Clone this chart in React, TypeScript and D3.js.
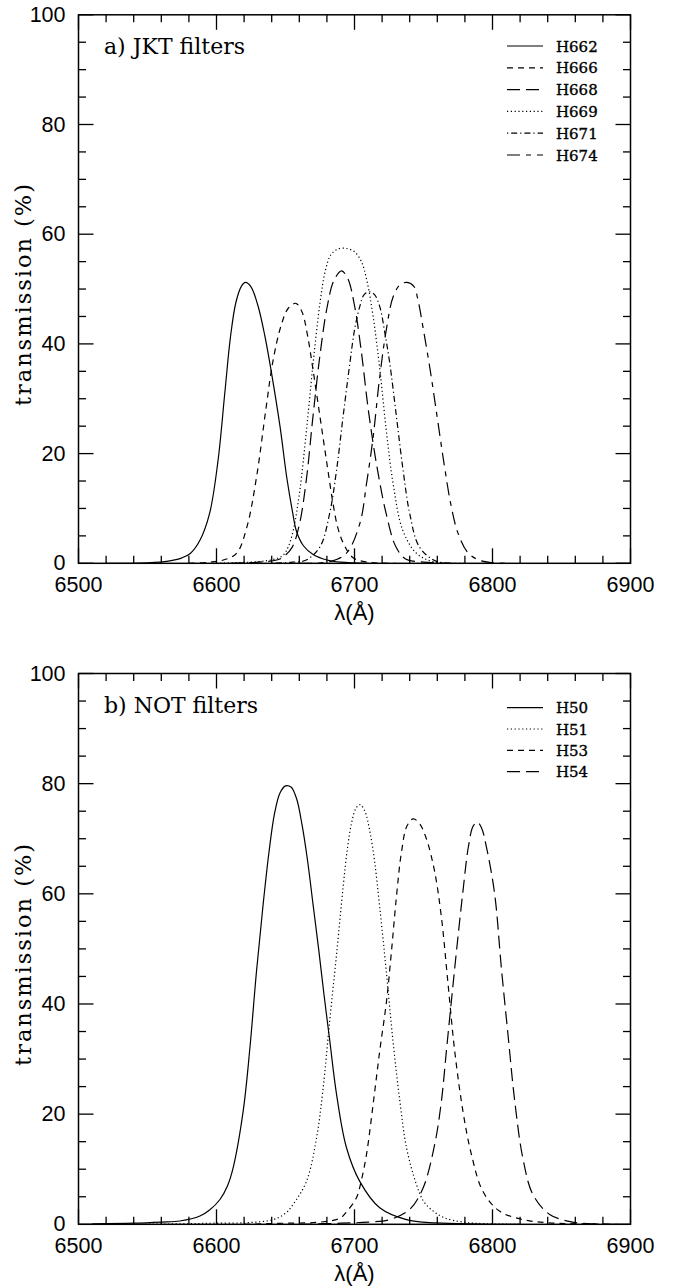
import React from 'react';
import * as d3 from 'd3';

// ---------- data ----------
const WAVE_DOMAIN = [6500, 6900];
const WAVE_TICKS = [6500, 6600, 6700, 6800, 6900];
const TRANS_TICKS = [0, 20, 40, 60, 80, 100];

// panel a) JKT filters  [wavelength Å, transmission %]
const H662 = [[6520,0],[6550,0.1],[6565,0.4],[6575,1],[6581,1.8],[6588,4.2],[6595,9.1],[6601,18.5],[6606,31],[6610,41],[6614,47.5],[6618,50.5],[6621,51.2],[6625,50.4],[6630,47],[6635,41.5],[6640,34.5],[6646,25],[6651,15.5],[6655,9.5],[6658,5.8],[6663,3.2],[6670,1.6],[6680,0.6],[6690,0.2],[6710,0]];
const H666 = [[6580,0],[6595,0.2],[6605,0.6],[6614.5,1.8],[6622,6.6],[6629,15.7],[6636,28.5],[6641,37],[6647,43.5],[6652,46.5],[6657.5,47.4],[6662,45.8],[6666,41.5],[6670,35.2],[6675,26.7],[6680,18.2],[6684.5,10.8],[6688,6.4],[6692,3.6],[6699,1],[6710,0.2],[6730,0]];
const H668 = [[6610,0],[6630,0.2],[6645,0.7],[6650,1.5],[6655,3],[6660,7],[6665,15],[6670,27],[6675,38],[6680,46.5],[6685,51.5],[6690.6,53.3],[6695,52],[6700,47],[6705,38.5],[6710,28],[6716,18],[6723,9],[6730,3],[6737,0.8],[6750,0.2],[6770,0]];
const H669 = [[6600,0],[6630,0.3],[6641,0.7],[6648,1.4],[6652,3],[6655.6,6],[6660.4,13.3],[6665.2,24.3],[6670,36.4],[6675,47.5],[6679,53.5],[6683,56.3],[6688,57.3],[6694,57.4],[6700,56.8],[6705,55],[6709,51.5],[6713.5,45],[6718.3,35.5],[6723,24.3],[6728,14.5],[6735,6],[6745,1.8],[6757,0.3],[6780,0]];
const H671 = [[6640,0],[6655,0.2],[6665,0.6],[6675,3],[6682,9.1],[6687,17],[6691.7,26.7],[6696.6,36.4],[6700,42.5],[6703.8,46.8],[6707,49],[6711,49.5],[6714.5,49],[6718.3,46.8],[6722,42],[6725.6,36.4],[6730.4,26.7],[6735.2,17],[6740,9.1],[6747,3],[6759,0.4],[6775,0]];
const H674 = [[6660,0],[6682,0.3],[6694,1.8],[6703.8,7.2],[6708.7,14.5],[6713.5,23],[6718,33.4],[6723,42.5],[6728,48.6],[6733,50.8],[6738,51.2],[6743,50.5],[6746,48],[6750,42.5],[6755,35],[6760,26.5],[6765,18],[6770,10.5],[6775,5.5],[6782,2],[6790,0.6],[6800,0.1],[6810,0]];

// panel b) NOT filters
const H50 = [[6510,0.1],[6540,0.2],[6560,0.4],[6573.5,0.6],[6588,1.5],[6595,2.6],[6602.5,4.5],[6608,7],[6612,10.2],[6619.3,20.5],[6624.2,32],[6629,46],[6633.8,58.1],[6638,67.5],[6642,74.5],[6646,78.3],[6650,79.6],[6654,79.4],[6658,77.3],[6662,72.5],[6666,66],[6670,58],[6674,50],[6678,41.5],[6682,33.5],[6687,23.6],[6694.2,13.9],[6703.8,7.8],[6718.3,3],[6737.6,0.85],[6759,0.25],[6790,0.05],[6820,0]];
const H51 = [[6540,0],[6580,0.1],[6598,0.2],[6622,0.3],[6641,0.85],[6650,2],[6655.5,3.6],[6665.2,7.8],[6672.5,15.7],[6677.3,24.8],[6682,36.9],[6687,49],[6691.7,61.1],[6695,68.5],[6698,73],[6701,75.5],[6704,76.2],[6707.5,75],[6711,71.5],[6714.5,66],[6718.3,57.5],[6723,46],[6728,33],[6732.8,22.5],[6737.6,14],[6744.9,7.2],[6750,4.2],[6757,2.4],[6765,1.2],[6778.6,0.4],[6795,0.1],[6820,0]];
const H53 = [[6620,0],[6650,0.2],[6675,0.4],[6689.4,1.1],[6695,2.5],[6701.4,4.8],[6705,8],[6708.7,12.7],[6713.5,21.8],[6718.3,31.5],[6723.2,40.5],[6726.8,49.6],[6730.4,59.5],[6734,67.5],[6738,72.3],[6742.5,73.6],[6747,72.8],[6752.1,70],[6758.1,64],[6763,55.7],[6767.8,43.6],[6772.6,31.5],[6778.6,20.5],[6784.7,12.7],[6793,6],[6805,2.4],[6822,0.85],[6839,0.3],[6860,0.1],[6890,0]];
const H54 = [[6660,0],[6690,0.2],[6710,0.4],[6725.6,0.85],[6740,2.7],[6749.7,6.6],[6758.1,14.5],[6763,22.4],[6766.6,31.5],[6770.2,40.5],[6773.9,49.6],[6778.6,60.5],[6782.5,68.5],[6786,72.3],[6789,73],[6792,72],[6795.6,68.5],[6801.6,59.9],[6806.4,46.6],[6811.2,34.5],[6816.1,22.4],[6822,12],[6829.3,5.4],[6841.4,1.8],[6858,0.4],[6872,0.1],[6890,0]];

const JKT_NAMES = ['H662', 'H666', 'H668', 'H669', 'H671', 'H674'];
const JKT_VALUES = [H662, H666, H668, H669, H671, H674];
const NOT_NAMES = ['H50', 'H51', 'H53', 'H54'];
const NOT_VALUES = [H50, H51, H53, H54];

// ---------- styles ----------
const DASH: Record<string, string | undefined> = {
  solid: undefined,
  short: '6,5',
  long: '13,6',
  dot: '1.2,2.6',
  dotShort: '1.2,3,6,3',
  shortLong: '13,6,5,6',
};
const JKT_STYLE = ['solid', 'short', 'long', 'dot', 'dotShort', 'shortLong'];
const NOT_STYLE = ['solid', 'dot', 'short', 'long'];

const X0 = 78.5;
const X1 = 630.5;
const SANS = '"Liberation Sans", Arial, sans-serif';
const SERIF = '"DejaVu Serif", serif';

type PanelProps = {
  id: string;
  top: number;
  bottom: number;
  title: string;
  names: string[];
  values: number[][][];
  styles: string[];
  legendTop: number;
  legendStep: number;
};

function Panel({ id, top, bottom, title, names, values, styles, legendTop, legendStep }: PanelProps) {
  const x = d3.scaleLinear().domain(WAVE_DOMAIN).range([X0, X1]);
  const y = d3.scaleLinear().domain([0, 100]).range([bottom, top]);
  const line = d3
    .line<number[]>()
    .x((d) => x(d[0]))
    .y((d) => y(Math.max(0, d[1])))
    .curve(d3.curveCatmullRom.alpha(0.5));

  const xMinor = d3.range(6500, 6901, 20).filter((v) => v % 100 !== 0);
  const yMinor = d3.range(0, 101, 5).filter((v) => v % 20 !== 0);
  const MAJ = 15;
  const MIN = 7.5;
  const tickStroke = { stroke: '#000', strokeWidth: 1.3 };

  return (
    <g>
      <defs>
        <clipPath id={`clip-${id}`}>
          <rect x={X0} y={top} width={X1 - X0} height={bottom - top} />
        </clipPath>
      </defs>

      {/* curves */}
      <g clipPath={`url(#clip-${id})`}>
        {values.map((s, i) => (
          <path
            key={names[i]}
            d={line(s) || ''}
            fill="none"
            stroke="#000"
            strokeWidth={1.2}
            strokeDasharray={DASH[styles[i]]}
          />
        ))}
      </g>

      {/* frame */}
      <rect x={X0} y={top} width={X1 - X0} height={bottom - top} fill="none" stroke="#000" strokeWidth={1.5} />

      {/* x ticks */}
      {WAVE_TICKS.map((v) => (
        <g key={`xm${v}`}>
          <line x1={x(v)} x2={x(v)} y1={bottom} y2={bottom - MAJ} {...tickStroke} />
          <line x1={x(v)} x2={x(v)} y1={top} y2={top + MAJ} {...tickStroke} />
          <text x={x(v)} y={bottom + 29} textAnchor="middle" fontFamily={SANS} fontSize={21.5}>
            {v}
          </text>
        </g>
      ))}
      {xMinor.map((v) => (
        <g key={`xn${v}`}>
          <line x1={x(v)} x2={x(v)} y1={bottom} y2={bottom - MIN} {...tickStroke} />
          <line x1={x(v)} x2={x(v)} y1={top} y2={top + MIN} {...tickStroke} />
        </g>
      ))}

      {/* y ticks */}
      {TRANS_TICKS.map((v) => (
        <g key={`ym${v}`}>
          <line x1={X0} x2={X0 + MAJ} y1={y(v)} y2={y(v)} {...tickStroke} />
          <line x1={X1} x2={X1 - MAJ} y1={y(v)} y2={y(v)} {...tickStroke} />
          <text x={X0 - 13} y={y(v) + 7} textAnchor="end" fontFamily={SANS} fontSize={21.5}>
            {v}
          </text>
        </g>
      ))}
      {yMinor.map((v) => (
        <g key={`yn${v}`}>
          <line x1={X0} x2={X0 + MIN} y1={y(v)} y2={y(v)} {...tickStroke} />
          <line x1={X1} x2={X1 - MIN} y1={y(v)} y2={y(v)} {...tickStroke} />
        </g>
      ))}

      {/* axis labels */}
      <text x={(X0 + X1) / 2} y={bottom + 57} textAnchor="middle" fontFamily={SANS} fontSize={22}>
        λ(Å)
      </text>
      <text
        transform={`translate(31,${(top + bottom) / 2 + 6}) rotate(-90)`}
        textAnchor="middle"
        fontFamily={SERIF}
        fontSize={22.5}
        textLength={222}
        lengthAdjust="spacing"
      >
        transmission (%)
      </text>

      {/* title */}
      <text x={104} y={top + 39} fontFamily={SERIF} fontSize={22}>
        {title}
      </text>

      {/* legend */}
      {names.map((n, i) => {
        const ly = legendTop + i * legendStep;
        return (
          <g key={`lg${n}`}>
            <line
              x1={507}
              x2={543}
              y1={ly}
              y2={ly}
              stroke="#000"
              strokeWidth={1.2}
              strokeDasharray={DASH[styles[i]]}
            />
            <text
              x={556}
              y={ly + 5.5}
              fontFamily={SERIF}
              fontSize={15}
              stroke="#000"
              strokeWidth={0.35}
            >
              {n}
            </text>
          </g>
        );
      })}
    </g>
  );
}

export default function App() {
  return (
    <svg
      width={673}
      height={1288}
      viewBox="0 0 673 1288"
      style={{ position: 'absolute', left: 0, top: 0, background: '#fff' }}
    >
      <rect width={673} height={1288} fill="#fff" />
      <Panel
        id="a"
        top={14.8}
        bottom={563.3}
        title="a) JKT filters"
        names={JKT_NAMES}
        values={JKT_VALUES}
        styles={JKT_STYLE}
        legendTop={46}
        legendStep={21.8}
      />
      <Panel
        id="b"
        top={673.5}
        bottom={1224.3}
        title="b) NOT filters"
        names={NOT_NAMES}
        values={NOT_VALUES}
        styles={NOT_STYLE}
        legendTop={707.7}
        legendStep={21.3}
      />
    </svg>
  );
}
